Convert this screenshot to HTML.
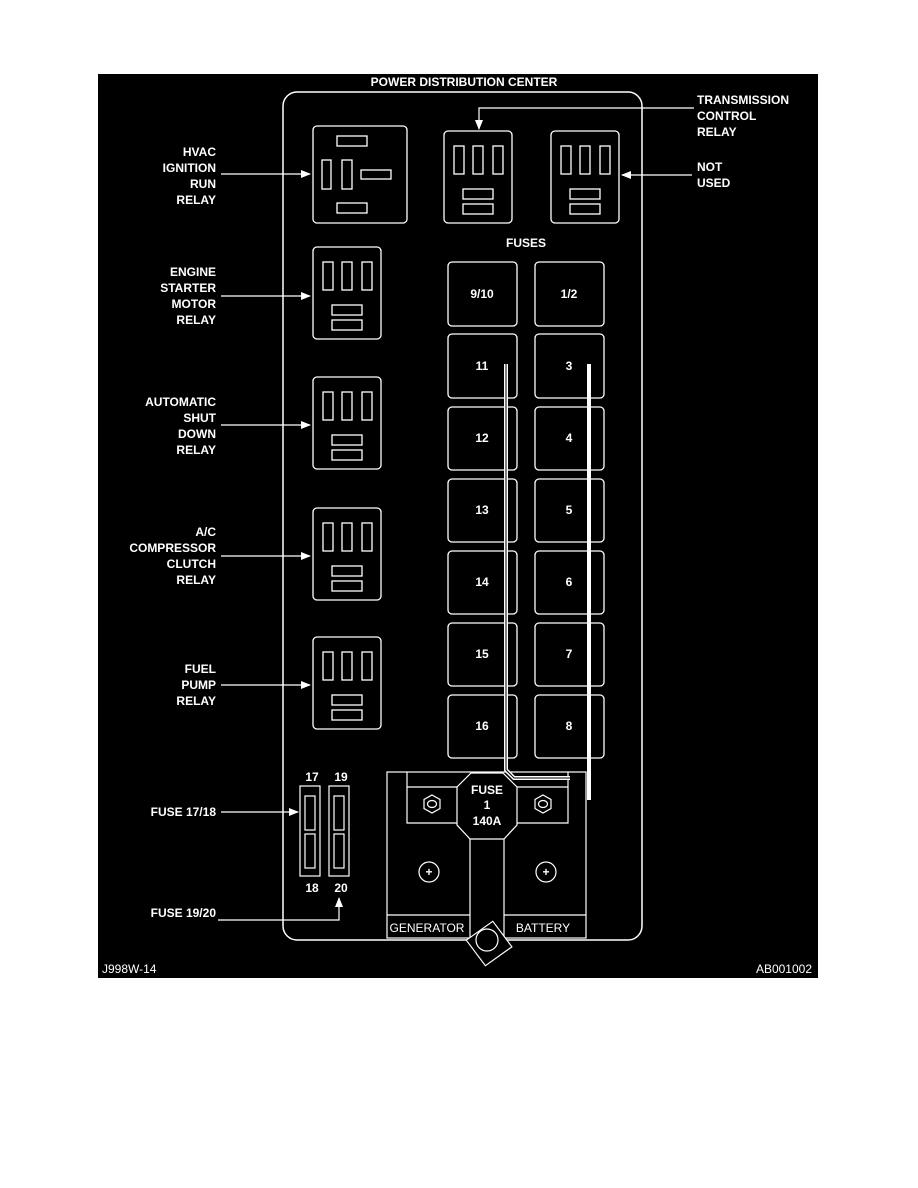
<!DOCTYPE html>
<html><head><style>
body{margin:0;background:#fff;width:918px;height:1188px;overflow:hidden}
svg{display:block}
text{font-family:"Liberation Sans",sans-serif;font-weight:bold;fill:#fff;font-size:12px}
text.n{font-weight:normal}
</style></head><body>
<svg width="918" height="1188" viewBox="0 0 918 1188">
<defs>
<marker id="ah" markerWidth="10" markerHeight="8" refX="9" refY="4" orient="auto" markerUnits="userSpaceOnUse"><path d="M0,0 L10,4 L0,8 z" fill="#fff"/></marker>
<g id="r3" fill="none" stroke="#fff" stroke-width="1.3">
<rect x="0" y="0" width="68" height="92" rx="4"/>
<rect x="10" y="15" width="10" height="28"/><rect x="29" y="15" width="10" height="28"/><rect x="49" y="15" width="10" height="28"/>
<rect x="19" y="58" width="30" height="10"/><rect x="19" y="73" width="30" height="10"/>
</g>
</defs>
<rect x="98" y="74" width="720" height="904" fill="#000"/>
<text x="464" y="86" text-anchor="middle" font-size="12.5">POWER DISTRIBUTION CENTER</text>
<rect x="283" y="92" width="359" height="848" rx="14" fill="none" stroke="#fff" stroke-width="1.5"/>
<g fill="none" stroke="#fff" stroke-width="1.3">
<rect x="313" y="126" width="94" height="97" rx="4"/>
<rect x="337" y="136" width="30" height="10"/><rect x="337" y="203" width="30" height="10"/>
<rect x="322" y="160" width="9" height="29"/><rect x="342" y="160" width="10" height="29"/>
<rect x="361" y="170" width="30" height="9"/>
</g>
<use href="#r3" x="444" y="131"/>
<use href="#r3" x="551" y="131"/>
<use href="#r3" x="313" y="247"/>
<use href="#r3" x="313" y="377"/>
<use href="#r3" x="313" y="508"/>
<use href="#r3" x="313" y="637"/>
<text x="526" y="247" text-anchor="middle">FUSES</text>
<g fill="none" stroke="#fff" stroke-width="1.3">
<rect x="448" y="262" width="69" height="64" rx="4"/><rect x="535" y="262" width="69" height="64" rx="4"/>
<rect x="448" y="334" width="69" height="64" rx="4"/><rect x="535" y="334" width="69" height="64" rx="4"/>
<rect x="448" y="407" width="69" height="63" rx="4"/><rect x="535" y="407" width="69" height="63" rx="4"/>
<rect x="448" y="479" width="69" height="63" rx="4"/><rect x="535" y="479" width="69" height="63" rx="4"/>
<rect x="448" y="551" width="69" height="63" rx="4"/><rect x="535" y="551" width="69" height="63" rx="4"/>
<rect x="448" y="623" width="69" height="63" rx="4"/><rect x="535" y="623" width="69" height="63" rx="4"/>
<rect x="448" y="695" width="69" height="63" rx="4"/><rect x="535" y="695" width="69" height="63" rx="4"/>
</g>
<g text-anchor="middle">
<text x="482" y="298">9/10</text><text x="569" y="298">1/2</text>
<text x="482" y="370">11</text><text x="569" y="370">3</text>
<text x="482" y="442">12</text><text x="569" y="442">4</text>
<text x="482" y="514">13</text><text x="569" y="514">5</text>
<text x="482" y="586">14</text><text x="569" y="586">6</text>
<text x="482" y="658">15</text><text x="569" y="658">7</text>
<text x="482" y="730">16</text><text x="569" y="730">8</text>
</g>
<g fill="none" stroke="#fff" stroke-width="1.2">
<rect x="387" y="772" width="199" height="166"/>
<line x1="387" y1="915" x2="470" y2="915"/><line x1="504" y1="915" x2="586" y2="915"/>
<path d="M407,772 V823 H457"/><path d="M457,787 H407"/>
<path d="M568,772 V823 H517"/><path d="M517,787 H568"/>
<polygon points="471,773 503,773 517,787 517,825 504,839 470,839 457,825 457,787" fill="#000"/>
<line x1="470" y1="839" x2="470" y2="938"/><line x1="504" y1="839" x2="504" y2="938"/>
<polygon points="466,945 490,966 512,942 488,921" transform="rotate(12 489 944)" fill="#000"/>
<circle cx="487" cy="940" r="11" fill="#000"/>
<polygon points="432,795 440,799.5 440,808.5 432,813 424,808.5 424,799.5"/><ellipse cx="432" cy="804" rx="4.5" ry="3.5"/>
<polygon points="543,795 551,799.5 551,808.5 543,813 535,808.5 535,799.5"/><ellipse cx="543" cy="804" rx="4.5" ry="3.5"/>
<circle cx="429" cy="872" r="10"/><circle cx="546" cy="872" r="10"/>
<rect x="300" y="786" width="20" height="90"/><rect x="305" y="796" width="10" height="34"/><rect x="305" y="834" width="10" height="34"/>
<rect x="329" y="786" width="20" height="90"/><rect x="334" y="796" width="10" height="34"/><rect x="334" y="834" width="10" height="34"/>
</g>
<g stroke="#fff" fill="none">
<path d="M506,364 V770 L514,778 H570" stroke-width="4"/>
<path d="M506,364 V770 L514,778 H570" stroke="#000" stroke-width="1"/>
<line x1="589" y1="364" x2="589" y2="800" stroke-width="4"/>
</g>
<g text-anchor="middle">
<text x="487" y="794" font-size="12.5">FUSE</text><text x="487" y="809">1</text><text x="487" y="825" font-size="12.5">140A</text>
<text x="312" y="781">17</text><text x="341" y="781">19</text>
<text x="312" y="892">18</text><text x="341" y="892">20</text>
</g>
<text class="n" x="427" y="932" text-anchor="middle" font-size="10.5">GENERATOR</text>
<text class="n" x="543" y="932" text-anchor="middle" font-size="10.5">BATTERY</text>
<text x="429" y="876" text-anchor="middle" font-size="10">+</text><text x="546" y="876" text-anchor="middle" font-size="10">+</text>
<g text-anchor="end">
<text x="216" y="156">HVAC</text><text x="216" y="172">IGNITION</text><text x="216" y="188">RUN</text><text x="216" y="204">RELAY</text>
<text x="216" y="276">ENGINE</text><text x="216" y="292">STARTER</text><text x="216" y="308">MOTOR</text><text x="216" y="324">RELAY</text>
<text x="216" y="406">AUTOMATIC</text><text x="216" y="422">SHUT</text><text x="216" y="438">DOWN</text><text x="216" y="454">RELAY</text>
<text x="216" y="536">A/C</text><text x="216" y="552">COMPRESSOR</text><text x="216" y="568">CLUTCH</text><text x="216" y="584">RELAY</text>
<text x="216" y="673">FUEL</text><text x="216" y="689">PUMP</text><text x="216" y="705">RELAY</text>
<text x="216" y="816">FUSE 17/18</text>
<text x="216" y="917">FUSE 19/20</text>
</g>
<text x="697" y="104">TRANSMISSION</text><text x="697" y="120">CONTROL</text><text x="697" y="136">RELAY</text>
<text x="697" y="171">NOT</text><text x="697" y="187">USED</text>
<g stroke="#fff" stroke-width="1.2" fill="none" marker-end="url(#ah)">
<line x1="221" y1="174" x2="310" y2="174"/>
<line x1="221" y1="296" x2="310" y2="296"/>
<line x1="221" y1="425" x2="310" y2="425"/>
<line x1="221" y1="556" x2="310" y2="556"/>
<line x1="221" y1="685" x2="310" y2="685"/>
<line x1="221" y1="812" x2="298" y2="812"/>
<path d="M218,920 H339 V898"/>
<path d="M694,108 H479 V129"/>
<line x1="692" y1="175" x2="622" y2="175"/>
</g>
<text class="n" x="102" y="973" font-size="10">J998W-14</text>
<text class="n" x="812" y="973" text-anchor="end" font-size="10">AB001002</text>
</svg>
</body></html>
